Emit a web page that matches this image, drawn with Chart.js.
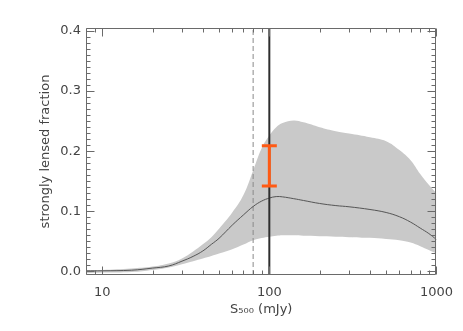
<!DOCTYPE html>
<html>
<head>
<meta charset="utf-8">
<script src="https://cdn.jsdelivr.net/npm/chart.js@4.4.1/dist/chart.umd.min.js"></script>
<style>
  html, body { margin: 0; padding: 0; background: #ffffff; }
  #wrap { width: 463px; height: 331px; }
</style>
</head>
<body>
<div id="wrap"><canvas id="c" width="463" height="331"></canvas></div>
<script>
// ---- data ----
const sValues   = [8, 10, 15, 20, 25, 30, 35, 40, 45, 50, 60, 70, 80, 90, 100, 110, 120, 140, 160, 200, 250, 300, 400, 500, 600, 700, 800, 900, 1000];
const meanFrac  = [0.001, 0.001, 0.002, 0.0055, 0.009, 0.017, 0.025, 0.034, 0.045, 0.055, 0.077, 0.094, 0.108, 0.117, 0.122, 0.1245, 0.124, 0.121, 0.118, 0.113, 0.1095, 0.1075, 0.103, 0.098, 0.091, 0.082, 0.072, 0.063, 0.053];
const bandUpper = [0.0015, 0.0023, 0.0048, 0.008, 0.013, 0.0214, 0.033, 0.045, 0.057, 0.071, 0.098, 0.127, 0.168, 0.205, 0.226, 0.240, 0.247, 0.251, 0.248, 0.240, 0.2333, 0.2295, 0.2233, 0.2167, 0.202, 0.185, 0.162, 0.144, 0.130];
const bandLower = [-0.003, -0.002, -0.001, 0.0023, 0.0065, 0.0118, 0.017, 0.0214, 0.0256, 0.0297, 0.037, 0.0447, 0.052, 0.0555, 0.0577, 0.0593, 0.060, 0.060, 0.0593, 0.0585, 0.0577, 0.057, 0.0558, 0.054, 0.052, 0.048, 0.042, 0.0355, 0.030];
const errBarS    = 100;
const errBarLow  = 0.142;
const errBarHigh = 0.209;
const dashedLineS = 80;
const solidLineS  = 100;
const xTickValues = [10, 100, 1000];
const xTickLabels = ['10', '100', '1000'];
const yTickValues = [0.0, 0.1, 0.2, 0.3, 0.4];
const yTickLabels = ['0.0', '0.1', '0.2', '0.3', '0.4'];
const xTitle = 'S\u2085\u2080\u2080 (mJy)';
const yTitle = 'strongly lensed fraction';

// ---- chart ----
const X_MIN = 8, X_MAX = 1000, Y_MIN = -0.006, Y_MAX = 0.405;
const FONT = 'DejaVu Sans';
const TEXT = '#444444';

const pts = (ys) => sValues.map((s, i) => ({ x: s, y: ys[i] }));

const xMinor = [];
[1, 10, 100].forEach(d => { for (let k = 2; k <= 9; k++) { const v = k * d; if (v >= X_MIN && v <= X_MAX && !xTickValues.includes(v)) xMinor.push(v); } });
const yMinor = [];
for (let k = 0; k <= 40; k++) { if (k % 10 !== 0) yMinor.push(k / 100); }

const frameTicks = {
  id: 'frameTicks',
  afterDatasetsDraw(chart) {
    const { ctx, chartArea: a, scales: { x, y } } = chart;
    ctx.save();
    ctx.strokeStyle = '#6a6a6a';
    ctx.lineWidth = 1;
    ctx.beginPath();
    const L = Math.round(a.left) + 0.5, R = Math.round(a.right) - 0.5;
    const T = Math.round(a.top) + 0.5, B = Math.round(a.bottom) - 0.5;
    ctx.moveTo(L, T); ctx.lineTo(R, T); ctx.lineTo(R, B); ctx.lineTo(L, B); ctx.closePath();
    const xt = (v, len) => {
      const p = Math.round(x.getPixelForValue(v)) + 0.5;
      ctx.moveTo(p, B); ctx.lineTo(p, B - len);
      ctx.moveTo(p, T); ctx.lineTo(p, T + len);
    };
    const yt = (v, len) => {
      const p = Math.round(y.getPixelForValue(v)) + 0.5;
      ctx.moveTo(L, p); ctx.lineTo(L + len, p);
      ctx.moveTo(R, p); ctx.lineTo(R - len, p);
    };
    xTickValues.forEach(v => xt(v, 8));
    xMinor.forEach(v => xt(v, 4));
    yTickValues.forEach(v => yt(v, 8));
    yMinor.forEach(v => yt(v, 4));
    ctx.stroke();
    ctx.restore();
  }
};

new Chart(document.getElementById('c'), {
  type: 'line',
  data: {
    datasets: [
      { label: 'upper', data: pts(bandUpper), borderWidth: 0, pointRadius: 0, fill: '+1',
        backgroundColor: '#c9c9c9', borderColor: 'rgba(0,0,0,0)', tension: 0.4, order: 10 },
      { label: 'lower', data: pts(bandLower), borderWidth: 0, pointRadius: 0, fill: false,
        borderColor: 'rgba(0,0,0,0)', tension: 0.4, order: 9 },
      { label: 'mean', data: pts(meanFrac), borderWidth: 1, pointRadius: 0, fill: false,
        borderColor: '#555555', tension: 0.4, order: 4 },
      { label: 'dashed', data: [{ x: dashedLineS, y: Y_MIN }, { x: dashedLineS, y: Y_MAX }], borderWidth: 1,
        borderColor: '#8a8a8a', borderDash: [5, 3], pointRadius: 0, fill: false, order: 5 },
      { label: 'solid', data: [{ x: solidLineS, y: Y_MIN }, { x: solidLineS, y: Y_MAX }], borderWidth: 2,
        borderColor: '#2e2e2e', pointRadius: 0, fill: false, order: 3 },
      { label: 'err', data: [{ x: errBarS, y: errBarLow }, { x: errBarS, y: errBarHigh }], borderWidth: 3,
        borderColor: '#ff5a14', pointStyle: 'line', pointRadius: 7.5, pointBorderWidth: 3,
        pointBorderColor: '#ff5a14', pointBackgroundColor: '#ff5a14', fill: false, order: 1 }
    ]
  },
  options: {
    responsive: false,
    animation: false,
    devicePixelRatio: 1,
    layout: { padding: { left: 0, right: 26, top: 28, bottom: 0 } },
    plugins: { legend: { display: false }, tooltip: { enabled: false } },
    scales: {
      x: {
        type: 'logarithmic', min: X_MIN, max: X_MAX,
        grid: { display: false, drawTicks: false }, border: { display: false },
        afterBuildTicks: (s) => { s.ticks = xTickValues.map(v => ({ value: v })); },
        afterFit: (s) => { s.height = 56; },
        ticks: { autoSkip: false, maxRotation: 0, padding: 10, color: TEXT, font: { family: FONT, size: 13 },
          callback: (v) => { const i = xTickValues.indexOf(v); return i >= 0 ? xTickLabels[i] : ''; } },
        title: { display: true, text: xTitle, color: TEXT, font: { family: FONT, size: 13 }, padding: { top: 0, bottom: 14 } }
      },
      y: {
        type: 'linear', min: Y_MIN, max: Y_MAX,
        grid: { display: false, drawTicks: false }, border: { display: false },
        afterBuildTicks: (s) => { s.ticks = yTickValues.map(v => ({ value: v })); },
        afterFit: (s) => { s.width = 86; },
        ticks: { autoSkip: false, padding: 5, color: TEXT, font: { family: FONT, size: 13 },
          callback: (v) => { const i = yTickValues.findIndex(t => Math.abs(t - v) < 1e-9); return i >= 0 ? yTickLabels[i] : ''; } },
        title: { display: true, text: yTitle, color: TEXT, font: { family: FONT, size: 13 }, padding: { top: 38, bottom: 0 } }
      }
    }
  },
  plugins: [frameTicks]
});
</script>
</body>
</html>
